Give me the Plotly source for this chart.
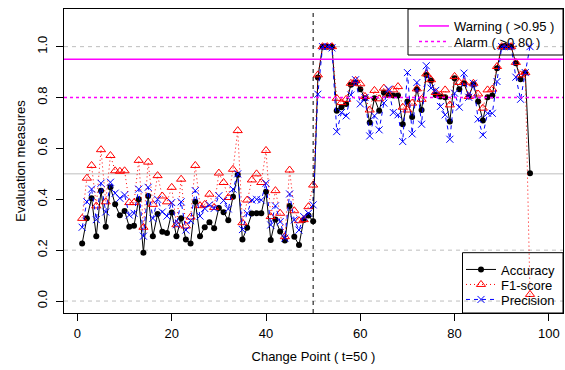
import plotly.graph_objects as go

change_point = list(range(1, 97))

accuracy = [
    0.226, 0.325, 0.404, 0.255, 0.434, 0.292, 0.447, 0.380, 0.337, 0.354,
    0.292, 0.296, 0.400, 0.190, 0.413, 0.255, 0.342, 0.272, 0.267, 0.348,
    0.255, 0.325, 0.242, 0.226, 0.390, 0.255, 0.290, 0.310, 0.286, 0.366,
    0.349, 0.318, 0.410, 0.496, 0.242, 0.288, 0.344, 0.345, 0.345, 0.430,
    0.240, 0.321, 0.273, 0.238, 0.374, 0.253, 0.220, 0.319, 0.336, 0.314,
    0.879, 1.000, 1.000, 1.000, 0.748, 0.762, 0.775, 0.850, 0.859, 0.833,
    0.797, 0.702, 0.797, 0.748, 0.820, 0.810, 0.808, 0.808, 0.695, 0.784,
    0.723, 0.833, 0.751, 0.889, 0.867, 0.810, 0.804, 0.801, 0.706, 0.876,
    0.833, 0.856, 0.804, 0.852, 0.784, 0.710, 0.801, 0.808, 0.915, 1.000,
    1.000, 1.000, 0.935, 0.872, 0.898, 0.502,
]

f1_score = [
    0.325, 0.483, 0.533, 0.374, 0.595, 0.390, 0.572, 0.512, 0.510, 0.512,
    0.387, 0.387, 0.553, 0.290, 0.546, 0.380, 0.493, 0.413, 0.390, 0.447,
    0.300, 0.479, 0.295, 0.330, 0.533, 0.375, 0.380, 0.420, 0.368, 0.503,
    0.466, 0.407, 0.518, 0.670, 0.308, 0.397, 0.476, 0.500, 0.466, 0.592,
    0.332, 0.434, 0.345, 0.253, 0.515, 0.355, 0.316, 0.320, 0.371, 0.456,
    0.889, 1.000, 1.000, 1.000, 0.797, 0.780, 0.793, 0.856, 0.867, 0.854,
    0.804, 0.751, 0.828, 0.795, 0.837, 0.810, 0.830, 0.843, 0.762, 0.751,
    0.778, 0.834, 0.793, 0.893, 0.870, 0.820, 0.810, 0.830, 0.771, 0.883,
    0.859, 0.860, 0.804, 0.856, 0.814, 0.758, 0.830, 0.833, 0.922, 1.000,
    1.000, 1.000, 0.938, 0.889, 0.898, 0.026,
]

precision = [
    0.290, 0.390, 0.440, 0.320, 0.463, 0.350, 0.467, 0.424, 0.404, 0.417,
    0.338, 0.345, 0.440, 0.255, 0.447, 0.325, 0.400, 0.350, 0.334, 0.387,
    0.300, 0.390, 0.279, 0.316, 0.434, 0.334, 0.364, 0.378, 0.364, 0.414,
    0.395, 0.362, 0.440, 0.500, 0.281, 0.345, 0.397, 0.400, 0.397, 0.463,
    0.299, 0.374, 0.312, 0.247, 0.421, 0.319, 0.279, 0.332, 0.345, 0.378,
    0.813, 1.000, 1.000, 0.995, 0.666, 0.741, 0.728, 0.810, 0.870, 0.775,
    0.800, 0.649, 0.728, 0.673, 0.778, 0.833, 0.741, 0.732, 0.627, 0.898,
    0.657, 0.859, 0.695, 0.925, 0.837, 0.828, 0.765, 0.732, 0.636, 0.817,
    0.762, 0.896, 0.801, 0.856, 0.715, 0.653, 0.738, 0.738, 0.863, 1.000,
    1.000, 1.000, 0.880, 0.793, 0.898, 1.000,
]

x_ticks = [0, 20, 40, 60, 80, 100]
y_ticks = [0.0, 0.2, 0.4, 0.6, 0.8, 1.0]
y_tick_labels = ["0.0", "0.2", "0.4", "0.6", "0.8", "1.0"]

warning_level = 0.95
alarm_level = 0.80
true_change = 50
grid_dashed = [0.0, 0.2, 1.0]
grid_solid = [0.5]

FONT = "Liberation Sans, Arial, Helvetica, sans-serif"
FS = 13
R_DASH = "4px,4px"   # R lty=2
R_DOT = "1px,3px"    # R lty=3
MAGENTA = "#FF00FF"

fig = go.Figure()

for g in grid_dashed:
    fig.add_hline(y=g, line=dict(color="#BEBEBE", width=1, dash=R_DASH), layer="below")
for g in grid_solid:
    fig.add_hline(y=g, line=dict(color="#BEBEBE", width=1), layer="below")

fig.add_vline(x=true_change, line=dict(color="black", width=1, dash=R_DASH))

fig.add_hline(y=warning_level, line=dict(color=MAGENTA, width=1.5),
              showlegend=True, name="Warning ( >0.95 )", legend="legend")
fig.add_hline(y=alarm_level, line=dict(color=MAGENTA, width=1.5, dash="3px,3px"),
              showlegend=True, name="Alarm ( >0.80 )", legend="legend2")

fig.add_trace(go.Scatter(
    x=change_point, y=accuracy, mode="lines+markers", name="Accuracy",
    line=dict(color="black", width=1),
    marker=dict(symbol="circle", size=6, color="black"),
    legend="legend3",
))
fig.add_trace(go.Scatter(
    x=change_point, y=f1_score, mode="lines+markers", name="F1-score",
    line=dict(color="#FF0000", width=1, dash=R_DOT),
    marker=dict(symbol="triangle-up-open", size=8, color="#FF0000",
                line=dict(width=1, color="#FF0000")),
    legend="legend4",
))
fig.add_trace(go.Scatter(
    x=change_point, y=precision, mode="lines+markers", name="Precision",
    line=dict(color="#0000FF", width=1, dash=R_DASH),
    marker=dict(symbol="x-thin-open", size=7, color="#0000FF",
                line=dict(width=1, color="#0000FF")),
    legend="legend5",
))

# plot area in pixels: x 64..563, y 9..313
def px_x(p):
    return (p - 64) / 499.0

def px_y(p):
    return (313 - p) / 304.0

def entry(xpx, ypx):
    return dict(x=px_x(xpx), xanchor="left", y=px_y(ypx), yanchor="middle",
                bgcolor="rgba(0,0,0,0)", borderwidth=0,
                font=dict(family=FONT, size=FS, color="black"))

# legend boxes
fig.add_shape(type="rect", xref="paper", yref="paper",
              x0=px_x(408), x1=1, y0=px_y(55), y1=1,
              line=dict(color="black", width=1), fillcolor="rgba(0,0,0,0)")
fig.add_shape(type="rect", xref="paper", yref="paper",
              x0=px_x(462.5), x1=1, y0=0, y1=px_y(252.7),
              line=dict(color="black", width=1), fillcolor="rgba(0,0,0,0)")

fig.update_layout(
    width=565, height=370,
    margin=dict(l=64, r=2, t=9, b=57, autoexpand=False),
    paper_bgcolor="white", plot_bgcolor="white",
    font=dict(family=FONT, size=FS, color="black"),
    legend=entry(414, 26.0),
    legend2=entry(414, 41.5),
    legend3=entry(461, 269.5),
    legend4=entry(461, 284.5),
    legend5=entry(461, 299.5),
)

fig.update_xaxes(
    range=[-2.85, 103.0], tickvals=x_ticks, ticks="outside", ticklen=7,
    tickcolor="black", showline=True, linecolor="black", linewidth=1,
    mirror=True, showgrid=False, zeroline=False, automargin=False,
    title=dict(text="Change Point ( t=50 )", standoff=12,
               font=dict(family=FONT, size=FS, color="black")),
    tickfont=dict(family=FONT, size=FS, color="black"), ticklabelstandoff=1,
)
fig.update_yaxes(
    range=[-0.047, 1.148], tickvals=y_ticks, ticktext=y_tick_labels,
    tickangle=-90, ticks="outside", ticklen=7, tickcolor="black",
    showline=True, linecolor="black", linewidth=1, mirror=True,
    showgrid=False, zeroline=False, automargin=False,
    title=dict(text="Evaluation measures", standoff=6,
               font=dict(family=FONT, size=FS, color="black")),
    tickfont=dict(family=FONT, size=FS, color="black"), ticklabelstandoff=4,
)

fig.write_html("out.html", config={"displayModeBar": False},
               post_script="document.body.style.margin='0';")
